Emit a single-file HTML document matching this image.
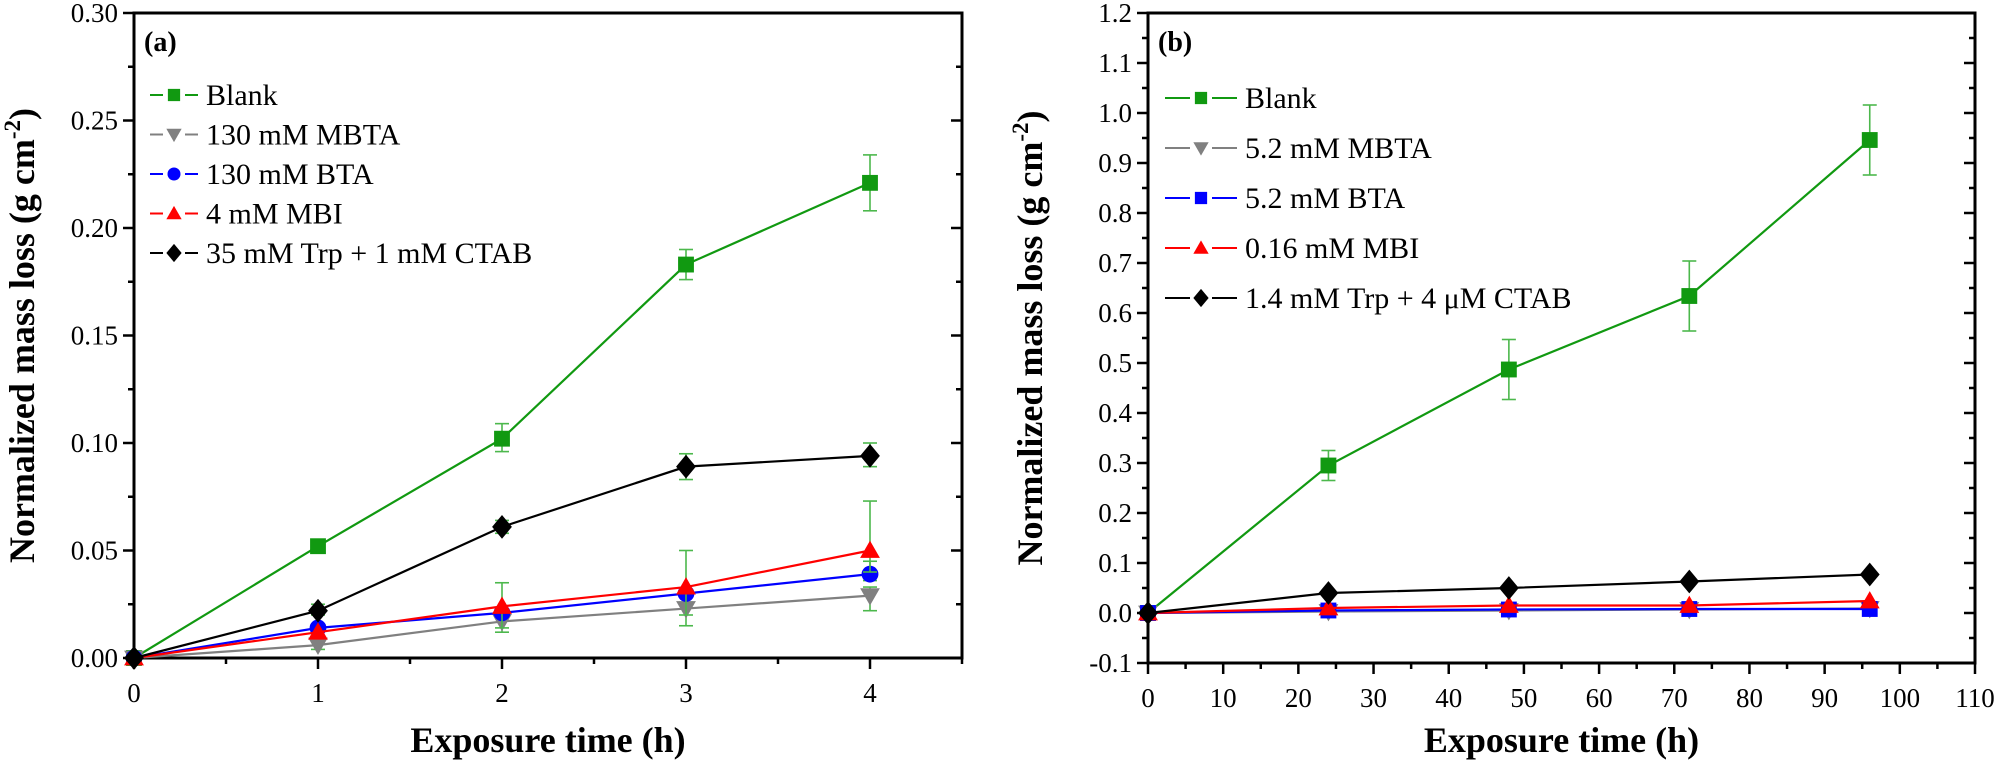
<!DOCTYPE html>
<html><head><meta charset="utf-8"><style>
html,body{margin:0;padding:0;background:#fff;}
svg{display:block;}
</style></head><body>
<svg id="s" width="1997" height="766" viewBox="0 0 1997 766" xmlns="http://www.w3.org/2000/svg" font-family="Liberation Serif, serif"></svg>
<script>
const S=document.getElementById('s');let h='';
const F='font-family="Liberation Serif, serif"';
function panel(o){
 const {L,R,T,B,x0,x1,y0,y1,xt,xm,yt,ym,fmtx,fmty}=o;
 const X=v=>L+(v-x0)/(x1-x0)*(R-L), Y=v=>B-(v-y0)/(y1-y0)*(B-T);
 h+=`<rect x="${L}" y="${T}" width="${R-L}" height="${B-T}" fill="none" stroke="#000" stroke-width="3"/>`;
 for(let v=y0;v<=y1+1e-9;v+=ym){const y=Y(v);const maj=Math.abs(Math.round(v/yt)*yt-v)<1e-6;const l=maj?11:6;
  h+=`<line x1="${L-l}" x2="${L}" y1="${y}" y2="${y}" stroke="#000" stroke-width="2.5"/><line x1="${R}" x2="${R-l}" y1="${y}" y2="${y}" stroke="#000" stroke-width="2.5"/>`;
  if(maj)h+=`<text ${F} x="${L-16}" y="${y+9}" font-size="27" text-anchor="end">${fmty(v)}</text>`;}
 for(let v=x0;v<=x1+1e-9;v+=xm){const x=X(v);const maj=Math.abs(Math.round(v/xt)*xt-v)<1e-6;const l=maj?11:6;
  h+=`<line x1="${x}" x2="${x}" y1="${B}" y2="${B+l}" stroke="#000" stroke-width="2.5"/>`;
  if(maj)h+=`<text ${F} x="${x}" y="${B+44}" font-size="27" text-anchor="middle">${fmtx(v)}</text>`;}
 o.series.forEach(s=>{
  const pts=s.d.map((v,i)=>[X(o.xs[i]),Y(v)]);
  if(s.err)s.err.forEach((e,i)=>{if(!e)return;const x=pts[i][0];const a=Y(e[0]),b=Y(e[1]);
   h+=`<line x1="${x}" x2="${x}" y1="${a}" y2="${b}" stroke="#4cb84c" stroke-width="1.6"/><line x1="${x-7}" x2="${x+7}" y1="${a}" y2="${a}" stroke="#4cb84c" stroke-width="1.6"/><line x1="${x-7}" x2="${x+7}" y1="${b}" y2="${b}" stroke="#4cb84c" stroke-width="1.6"/>`;});
  h+=`<polyline points="${pts.map(p=>p.join(',')).join(' ')}" fill="none" stroke="${s.c}" stroke-width="2.2"/>`;
  pts.forEach(p=>h+=mk(s.m,p[0],p[1],s.c,1.1));
 });
 o.series.forEach((s,i)=>{const y=o.ly+i*o.ls;
  h+=`<line x1="${o.lx}" x2="${o.lx+o.lw}" y1="${y}" y2="${y}" stroke="${s.c}" stroke-width="2"/>`;
  h+=`<rect x="${o.lx+o.lw/2-11}" y="${y-10}" width="22" height="20" fill="#fff"/>`;
  h+=mk(s.m,o.lx+o.lw/2,y,s.c,0.85);
  h+=`<text ${F} x="${o.lx+o.lw+8}" y="${y+10}" font-size="30">${s.lab}</text>`;});
 h+=`<text ${F} x="${L+10}" y="${T+38}" font-size="28" font-weight="bold">${o.tag}</text>`;
 h+=`<text ${F} x="${(L+R)/2}" y="${752}" font-size="36" font-weight="bold" text-anchor="middle">Exposure time (h)</text>`;
 h+=`<text ${F} transform="translate(${o.tx},${(T+B)/2}) rotate(-90)" font-size="36" font-weight="bold" text-anchor="middle">Normalized mass loss (g cm<tspan dy="-14" font-size="23">-2</tspan><tspan dy="14">)</tspan></text>`;
}
function mk(m,x,y,c,k){const r=9*k;
 if(m=='s')return `<rect x="${x-r*0.8}" y="${y-r*0.8}" width="${1.6*r}" height="${1.6*r}" fill="${c}"/>`;
 if(m=='c')return `<circle cx="${x}" cy="${y}" r="${r*0.85}" fill="${c}"/>`;
 if(m=='t')return `<polygon points="${x},${y-r} ${x+r},${y+r*0.75} ${x-r},${y+r*0.75}" fill="${c}"/>`;
 if(m=='v')return `<polygon points="${x},${y+r} ${x+r},${y-r*0.75} ${x-r},${y-r*0.75}" fill="${c}"/>`;
 if(m=='d')return `<polygon points="${x},${y-r*1.2} ${x+r},${y} ${x},${y+r*1.2} ${x-r},${y}" fill="${c}"/>`;}
const G='#119911',GR='#808080',BL='#0000ff',RD='#ff0000',BK='#000';
panel({L:134,R:962,T:13,B:658,x0:0,x1:4.5,y0:0,y1:0.30,xt:1,xm:0.5,yt:0.05,ym:0.025,
 fmtx:v=>Math.round(v*10)%10?'':Math.round(v),fmty:v=>v.toFixed(2),xs:[0,1,2,3,4],
 lx:150,lw:48,ly:95,ls:39.5,tag:'(a)',tx:34,
 series:[
 {lab:'Blank',c:G,m:'s',d:[0,0.052,0.102,0.183,0.221],err:[0,[0.05,0.054],[0.096,0.109],[0.176,0.190],[0.208,0.234]]},
 {lab:'130 mM MBTA',c:GR,m:'v',d:[0,0.006,0.017,0.023,0.029],err:[0,[0.004,0.008],[0.012,0.02],[0.015,0.026],[0.022,0.033]]},
 {lab:'130 mM BTA',c:BL,m:'c',d:[0,0.014,0.021,0.030,0.039],err:[0,0,0,0,[0.036,0.045]]},
 {lab:'4 mM MBI',c:RD,m:'t',d:[0,0.012,0.024,0.033,0.050],err:[0,0,[0.014,0.035],[0.02,0.050],[0.04,0.073]]},
 {lab:'35 mM Trp + 1 mM CTAB',c:BK,m:'d',d:[0,0.022,0.061,0.089,0.094],err:[0,[0.02,0.025],[0.058,0.064],[0.083,0.095],[0.089,0.100]]}]});
panel({L:1148,R:1975,T:13,B:663,x0:0,x1:110,y0:-0.1,y1:1.2,xt:10,xm:5,yt:0.1,ym:0.05,
 fmtx:v=>Math.round(v)%10?'':Math.round(v),fmty:v=>(Math.abs(v)<1e-9?0:v).toFixed(1),xs:[0,24,48,72,96],
 lx:1165,lw:72,ly:98,ls:50,tag:'(b)',tx:1042,
 series:[
 {lab:'Blank',c:G,m:'s',d:[0,0.295,0.487,0.634,0.946],err:[0,[0.265,0.325],[0.427,0.547],[0.564,0.704],[0.876,1.016]]},
 {lab:'5.2 mM MBTA',c:GR,m:'v',d:[0,0.003,0.005,0.007,0.009]},
 {lab:'5.2 mM BTA',c:BL,m:'s',d:[0,0.005,0.007,0.008,0.008]},
 {lab:'0.16 mM MBI',c:RD,m:'t',d:[0,0.01,0.015,0.015,0.024]},
 {lab:'1.4 mM Trp + 4 μM CTAB',c:BK,m:'d',d:[0,0.04,0.05,0.063,0.077]}]});
S.innerHTML=h;
</script>
</body></html>
